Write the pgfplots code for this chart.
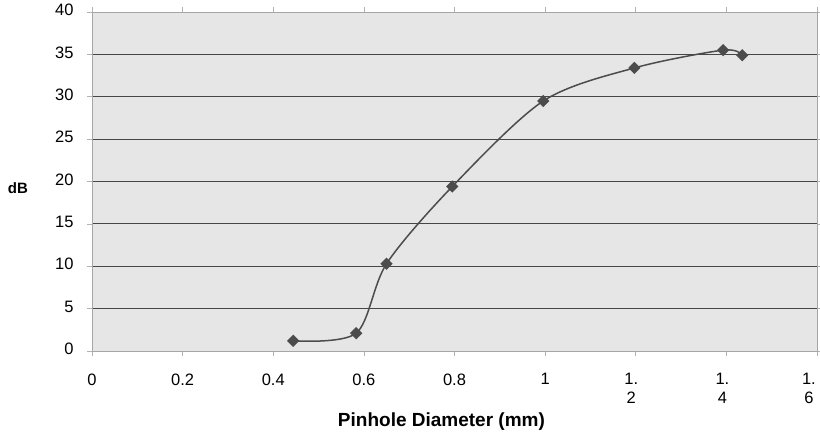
\documentclass[border=0pt]{standalone}
\usepackage{pgfplots}
\pgfplotsset{compat=1.18}
\usepackage{fontspec}
\setmainfont{Liberation Sans}
\definecolor{plotbg}{HTML}{E6E6E6}
\definecolor{gridc}{HTML}{464646}
\definecolor{linec}{HTML}{4C4C4C}
\begin{document}
\begin{tikzpicture}[x=1bp,y=1bp]
\begin{axis}[
    at={(0,0)}, anchor=south west,
    scale only axis,
    width=725bp,
    height=339bp,
    xmin=0, xmax=1.6,
    ymin=0, ymax=40,
    xtick={0,0.2,0.4,0.6,0.8,1,1.2,1.4,1.6},
    xticklabels={0,0.2,0.4,0.6,0.8,1,
        {\kern-9bp 1.\\\kern-9bp 2},
        {\kern-8bp 1.\\\kern-8bp 4},
        {\kern-15bp 1.\\\kern-15bp 6}},
    xticklabel style={align=center, anchor=north, yshift=-14bp,
        font=\fontsize{16.5bp}{19bp}\selectfont},
    ytick={0,5,...,40},
    yticklabel style={font=\fontsize{16.5bp}{17bp}\selectfont, xshift=-10bp, yshift=2bp},
    /pgf/number format/assume math mode=true,
    tick align=outside,
    major tick length=5bp,
    tick style={gray!60, line width=0.7bp},
    ymajorgrids,
    grid style={gridc, line width=0.8bp},
    axis line style={gray!70, line width=0.9bp},
    axis background/.style={fill=plotbg},
    xlabel={\textbf{Pinhole Diameter (mm)}},
    every axis x label/.style={at={(rel axis cs:0.482,0)}, anchor=center, yshift=-71bp,
        font=\fontsize{19bp}{20bp}\selectfont},
    ylabel={\textbf{dB}},
    every axis y label/.style={at={(rel axis cs:0,0.481)}, anchor=center, xshift=-74bp,
        font=\fontsize{15bp}{16bp}\selectfont},
    clip=false,
]
\addplot[linec, line width=1.5bp, smooth, tension=0.5, mark=square*, mark size=3.6bp,
    mark options={fill=linec, draw=linec, rotate=45, solid}]
coordinates {
(0.444, 1.2)
(0.583, 2.1)
(0.650, 10.3)
(0.795, 19.4)
(0.996, 29.5)
(1.197, 33.4)
(1.393, 35.5)
(1.435, 34.9)
};
\end{axis}
\pgfresetboundingbox
\useasboundingbox (-92,-85) rectangle (728,351);
\end{tikzpicture}
\end{document}
